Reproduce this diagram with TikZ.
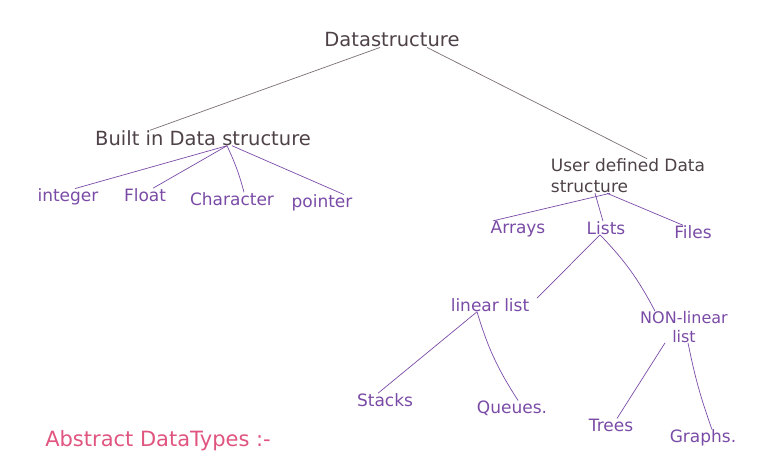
\documentclass[tikz,border=0pt]{standalone}
\usepackage{fontspec}
\setmainfont{DejaVu Sans}
\usepackage{tikz}
\definecolor{inkgray}{HTML}{4E4248}
\definecolor{linegray}{HTML}{7A6E74}
\definecolor{inkpurple}{HTML}{7A4BA6}
\definecolor{inkpink}{HTML}{E0557F}
\tikzset{
  font={\fontsize{17pt}{20pt}\selectfont},
  toptext/.style={text=inkgray, font={\fontsize{19.5pt}{22pt}\selectfont}},
  leaftext/.style={text=inkpurple},
  topedge/.style={draw=linegray, line width=0.7pt},
  leafedge/.style={draw=inkpurple, line width=0.7pt}}
\begin{document}
\begin{tikzpicture}[x=1pt,y=-1pt]
\tikzstyle{every node}+=[inner sep=0pt]
\useasboundingbox (0,0) rectangle (759,459);
\node [toptext] (ds) at (392,40) {Datastructure};
\node [toptext] (bi) at (203,138) {Built in Data structure};
\node [toptext, font={\fontsize{17pt}{21pt}\selectfont}, align=left] (ud) at (628,176) {User defined Data\\ structure};
\node [leaftext] (int) at (68,197) {integer};
\node [leaftext] (flt) at (145,195) {Float};
\node [leaftext] (chr) at (232,199) {Character};
\node [leaftext] (ptr) at (322,203) {pointer};
\node [leaftext] (arr) at (518,229) {Arrays};
\node [leaftext] (lst) at (606,228) {Lists};
\node [leaftext] (fil) at (693,232) {Files};
\node [leaftext] (lin) at (490,305) {linear list};
\node [leaftext, align=center, font={\fontsize{16pt}{19pt}\selectfont}] (nl) at (684,327) {NON-linear\\ list};
\node [leaftext] (stk) at (385,400) {Stacks};
\node [leaftext] (que) at (512,408) {Queues.};
\node [leaftext] (tre) at (611,425) {Trees};
\node [leaftext] (grp) at (703,438) {Graphs.};
\node [text=inkpink, font={\fontsize{21pt}{22pt}\selectfont}] (adt) at (158,441) {Abstract DataTypes :-};
\draw [topedge] ([xshift=-12pt]ds.south) -- ([xshift=-53pt]bi.north);
\draw [topedge] ([xshift=35pt]ds.south) -- ([xshift=19pt]ud.north);
\draw [leafedge] ([xshift=24pt]bi.south) -- ([xshift=7pt]int.north);
\draw [leafedge] ([xshift=24pt]bi.south) -- ([xshift=8pt]flt.north);
\draw [leafedge] ([xshift=24pt]bi.south) to [bend left=5] ([xshift=12pt]chr.north);
\draw [leafedge] ([xshift=29pt]bi.south) -- ([xshift=22pt]ptr.north);
\draw [leafedge] ([xshift=-18pt]ud.south) -- ([xshift=-25pt]arr.north);
\draw [leafedge] ([xshift=-33pt]ud.south) -- ([xshift=-3pt]lst.north);
\draw [leafedge] ([xshift=-21pt]ud.south) -- ([xshift=-10pt]fil.north);
\draw [leafedge] ([xshift=-6pt]lst.south) -- ([xshift=47pt]lin.north);
\draw [leafedge] ([xshift=-6pt]lst.south) to [bend left=8] ([xshift=-29pt]nl.north);
\draw [leafedge] ([xshift=-13pt]lin.south) -- ([xshift=-7pt]stk.north);
\draw [leafedge] ([xshift=-13pt]lin.south) to [bend right=8] ([xshift=6pt]que.north);
\draw [leafedge] ([xshift=-19pt]nl.south) -- ([xshift=6pt]tre.north);
\draw [leafedge] ([xshift=4pt]nl.south) to [bend right=4] ([xshift=9pt]grp.north);
\end{tikzpicture}
\end{document}
